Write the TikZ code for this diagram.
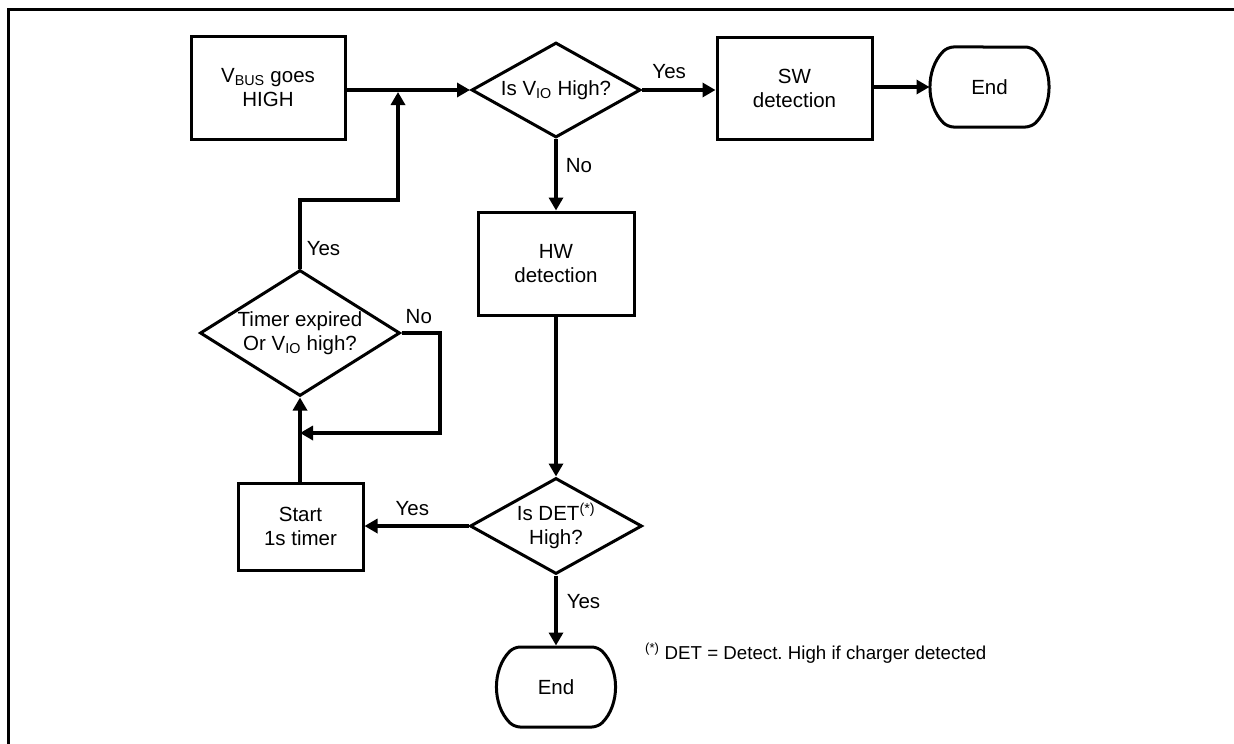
\documentclass[tikz,border=0pt]{standalone}
\usepackage{fontspec}
\setmainfont{Liberation Sans}
\usetikzlibrary{shapes.geometric, shapes.misc, arrows.meta, positioning}
\frenchspacing

\begin{document}
\begin{tikzpicture}[x=1pt, y=-1pt, font=\fontsize{20.5}{24}\selectfont,
  box/.style={draw, line width=3pt, align=center, inner sep=0pt},
  decision/.style={draw, diamond, line width=3pt, align=center, inner sep=0pt},
  terminal/.style={draw, rounded rectangle, rounded rectangle arc length=90, rounded corners=6pt, line width=3pt, inner sep=0pt, minimum width=117, minimum height=80},
  flow/.style={line width=3.5pt, -{Triangle[length=13pt, width=14pt]}},
  lbl/.style={inner sep=0pt}]
  \useasboundingbox (0, 0) rectangle (1234, 744);

  % Frame
  \draw[line width=3pt] (8, 744) -- (8, 9) -- (1234, 9);

  % Top row
  \node[box, minimum width=154, minimum height=103] (vbus) at (268, 87.5) {V\textsubscript{BUS} goes\\HIGH};
  \node[decision, shape aspect=1.78, minimum width=169, minimum height=95] (vio) at (556, 90) {Is V\textsubscript{IO} High?};
  \node[box, minimum width=155, minimum height=102] (sw) at (794.5, 88) {SW\\detection};
  \node[terminal] (endsw) at (989.5, 87) {End};

  % Middle column
  \node[box, minimum width=156, minimum height=103] (hw) at (556, 263.5) {HW\\detection};
  \node[decision, shape aspect=1.79, minimum width=172, minimum height=96] (det) at (556, 526) {Is DET\textsuperscript{(*)}\\High?};
  \node[terminal] (enddet) at (556, 687) {End};

  % Timer loop
  \node[box, minimum width=125, minimum height=87] (start) at (300.5, 526.5) {Start\\1s timer};
  \node[decision, shape aspect=1.59, minimum width=200, minimum height=126] (timer) at (300, 333) {Timer expired\\Or V\textsubscript{IO} high?};
  \coordinate (noback) at (440, 433);
  \coordinate (bend) at (300, 200);
  \coordinate (merge) at (398, 92);

  % Footnote
  \node[lbl, anchor=base west, font=\fontsize{18.7}{22}\selectfont] (note) at (645, 659) {\textsuperscript{(*)} DET = Detect. High if charger detected};

  % Connectors
  \draw[flow] (vbus.east |- vio.west) -- (vio.west);
  \draw[flow] (vio.east) -- node[lbl, above=10pt, pos=0.37] {Yes} (sw.west |- vio.east);
  \draw[flow] (sw.east |- endsw.west) -- (endsw.west);
  \draw[flow] (vio.south) -- node[lbl, right=8pt, pos=0.37] {No} (hw.north);
  \draw[flow] (hw.south) -- (det.north);
  \draw[flow] (det.west) -- node[lbl, above=9pt, pos=0.54] {Yes} (start.east |- det.west);
  \draw[flow] (det.south) -- node[lbl, right=9pt, pos=0.37] {Yes} (enddet.north);
  \draw[flow] (start.north -| timer.south) -- (timer.south);
  \draw[flow] (timer.east) -- node[lbl, above=8pt, pos=0.45] {No} (timer.east -| noback) -- (noback) -- (noback -| timer.south);
  \draw[flow] (timer.north) -- node[lbl, right=5pt, pos=0.29] {Yes} (bend) -| (merge);
\end{tikzpicture}
\end{document}
